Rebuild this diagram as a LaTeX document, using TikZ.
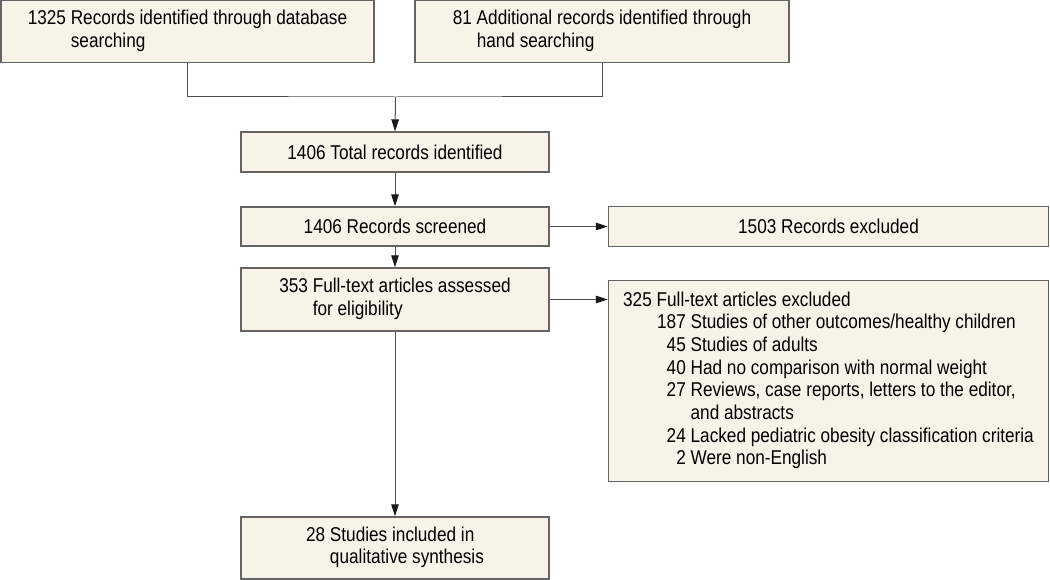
\documentclass[tikz,border=0pt]{standalone}
\usepackage{fontspec}
\setmainfont[FakeStretch=0.86]{Liberation Sans}
\usetikzlibrary{arrows.meta}
\definecolor{boxfill}{RGB}{247,243,232}
\definecolor{boxline}{RGB}{100,100,100}
\definecolor{conline}{RGB}{80,80,80}
\tikzset{
  fbox/.style={draw=boxline, line width=1.4pt, fill=boxfill, inner sep=0pt, align=left,
    font=\fontsize{20}{22.7}\selectfont},
  conn/.style={draw=conline, line width=1pt},
  arr/.style={conn, -{Triangle[length=12pt,width=7.5pt,color=black!90]}}
}
\newcommand{\ent}[2]{\begin{tabular}{@{}r@{\ }l@{}}#1 & #2\end{tabular}}
\begin{document}
\begin{tikzpicture}[x=1pt,y=-1pt]
\useasboundingbox (0,0) rectangle (1050,580);
\node[fbox, minimum width=373pt, minimum height=62pt] (b1) at (187.5,31.5)
  {\ent{1325}{Records identified through database\\ & searching}};
\node[fbox, minimum width=374pt, minimum height=62pt] (b2) at (602,31.5)
  {\ent{81}{Additional records identified through\\ & hand searching}};
\node[fbox, minimum width=308pt, minimum height=40pt] (b3) at (395,152)
  {1406 Total records identified};
\node[fbox, minimum width=308pt, minimum height=39pt] (b4) at (395,226.5)
  {1406 Records screened};
\node[fbox, minimum width=440pt, minimum height=40pt] (b5) at (828.5,226.5)
  {1503 Records excluded};
\node[fbox, minimum width=308pt, minimum height=63pt] (b6) at (395,299.5)
  {\ent{353}{Full-text articles assessed\\ & for eligibility}};
\node[fbox, minimum width=440pt, minimum height=201pt] (b7) at (828.5,381)
  {\begin{tabular}{@{}p{34pt}@{}r@{\ }l@{}}
   \multicolumn{3}{@{}l@{}}{325 Full-text articles excluded}\\
   & 187 & Studies of other outcomes/healthy children\\
   & 45 & Studies of adults\\
   & 40 & Had no comparison with normal weight\\
   & 27 & Reviews, case reports, letters to the editor,\\
   & & and abstracts\\
   & 24 & Lacked pediatric obesity classification criteria\\
   & 2 & Were non-English
   \end{tabular}};
\node[fbox, minimum width=308pt, minimum height=62pt] (b8) at (395,548)
  {\ent{28}{Studies included in\\ & qualitative synthesis}};
\coordinate (j) at (395.5,97);
\draw[conn] (b1.south) |- (j) -| (b2.south);
\draw[arr] (j) -- (b3.north);
\draw[arr] (b3.south) -- (b4.north);
\draw[arr] (b4.east) -- (b5.west);
\draw[arr] (b4.south) -- (b6.north);
\draw[arr] (b6.east) -- (b7.west |- b6.east);
\draw[arr] (b6.south) -- (b8.north);
\end{tikzpicture}
\end{document}
